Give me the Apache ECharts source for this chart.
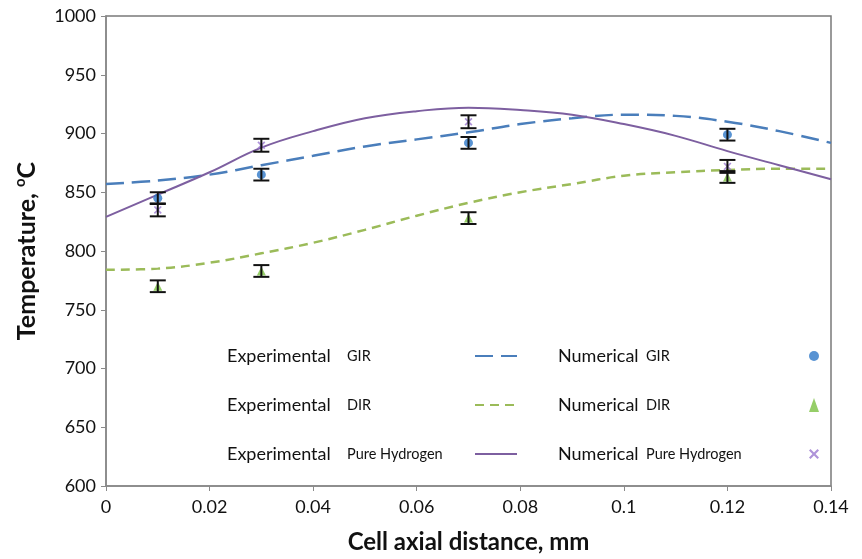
<!DOCTYPE html>
<html>
<head>
<meta charset="utf-8">
<script src="https://cdn.jsdelivr.net/npm/echarts@6/dist/echarts.min.js"></script>
<style>
  html, body { margin: 0; padding: 0; background: #fff; }
  #chart { width: 862px; height: 559px; }
</style>
</head>
<body>
<div id="chart"></div>
<script>
// Axial positions of the computed temperature profiles (mm)
const xModel = [0, 0.01, 0.02, 0.03, 0.04, 0.05, 0.06, 0.07, 0.08, 0.09, 0.10, 0.11, 0.12, 0.13, 0.14];
const girModel = [857, 860, 865, 873, 881, 889, 895, 901, 908, 913, 916, 915, 910, 902, 892];
const dirModel = [784, 785, 790, 798, 807, 818, 830, 841, 850, 857, 864, 867, 869, 870, 870];
const h2Model  = [829, 848, 867, 888, 902, 913, 919, 922, 920, 916, 908, 898, 885, 873, 861];

// Measured points with their uncertainty (± °C)
const xMeas = [0.01, 0.03, 0.07, 0.12];
const girMeas = [845, 865, 892, 899];
const dirMeas = [770, 783, 828, 863];
const h2Meas  = [835, 890, 910, 872];
const girErr = [5, 5, 5, 5];
const dirErr = [5, 5, 5, 5];
const h2Err  = [5.5, 5.5, 5.5, 5.5];

const xTicks = { min: 0, max: 0.14, interval: 0.02 };
const yTicks = { min: 600, max: 1000, interval: 50 };

const FONT = 'Lato, "Open Sans", sans-serif';
const C_BLUE_LINE = '#4a7ebb', C_GREEN_LINE = '#9bbb59', C_PURPLE_LINE = '#7d5fa0';
const C_BLUE_PT = '#2e78c8', C_GREEN_PT = '#7cc242', C_PURPLE_PT = '#9a78d0';

const pairs = (xs, ys) => xs.map((x, i) => [x, ys[i]]);
const errData = (xs, ys, es) => xs.map((x, i) => [x, ys[i] - es[i], ys[i] + es[i]]);

function errorBars(data) {
  return {
    type: 'custom',
    data: data,
    z: 5,
    silent: true,
    encode: { x: 0, y: [1, 2] },
    renderItem: function (params, api) {
      const lo = api.coord([api.value(0), api.value(1)]);
      const hi = api.coord([api.value(0), api.value(2)]);
      const w = 8;
      const style = { stroke: '#111', lineWidth: 2, fill: null };
      return {
        type: 'group',
        children: [
          { type: 'line', shape: { x1: lo[0], y1: lo[1], x2: hi[0], y2: hi[1] }, style: style },
          { type: 'line', shape: { x1: lo[0] - w, y1: lo[1], x2: lo[0] + w, y2: lo[1] }, style: style },
          { type: 'line', shape: { x1: hi[0] - w, y1: hi[1], x2: hi[0] + w, y2: hi[1] }, style: style }
        ]
      };
    }
  };
}

const crossSymbol = 'path://M0,1.5L1.5,0L5,3.5L8.5,0L10,1.5L6.5,5L10,8.5L8.5,10L5,6.5L1.5,10L0,8.5L3.5,5Z';

function legendFormatter(name) {
  const i = name.indexOf(' ');
  return '{a|' + name.slice(0, i) + '}{b|' + name.slice(i + 1) + '}';
}

function legendBlock(names, left, wA, wB, itemW, hideSymbol) {
  const block = {
    data: names,
    orient: 'vertical',
    left: left,
    top: 342,
    align: 'right',
    itemGap: 31,
    itemWidth: itemW,
    itemHeight: 14,
    selectedMode: false,
    formatter: legendFormatter,
    textStyle: {
      color: '#111',
      rich: {
        a: { fontFamily: FONT, fontSize: 18, width: wA, align: 'left', color: '#111', lineHeight: 14 },
        b: { fontFamily: FONT, fontSize: 14.5, width: wB, align: 'left', color: '#111', lineHeight: 14 }
      }
    }
  };
  if (hideSymbol) block.itemStyle = { opacity: 0 };
  return block;
}

const chart = echarts.init(document.getElementById('chart'), null, { renderer: 'canvas' });

chart.setOption({
  backgroundColor: '#fff',
  animation: false,
  grid: { left: 106, right: 31, top: 16, bottom: 66, show: true, borderColor: '#7a7a7a', borderWidth: 1.5 },
  legend: [
    legendBlock(['Experimental GIR', 'Experimental DIR', 'Experimental Pure Hydrogen'], 222, 120, 123, 42, true),
    legendBlock(['Numerical GIR', 'Numerical DIR', 'Numerical Pure Hydrogen'], 553, 88, 158, 10, false)
  ],
  xAxis: {
    type: 'value',
    min: xTicks.min, max: xTicks.max, interval: xTicks.interval,
    name: 'Cell axial distance, mm',
    nameLocation: 'middle',
    nameGap: 44,
    nameTextStyle: { fontFamily: FONT, fontSize: 24, fontWeight: 'bold', color: '#111' },
    axisLine: { lineStyle: { color: '#8a8a8a', width: 1.5 } },
    axisTick: { show: true, length: 5, lineStyle: { color: '#8a8a8a' } },
    axisLabel: {
      fontFamily: FONT, fontSize: 18, color: '#111', margin: 12,
      formatter: v => String(+v.toFixed(2))
    },
    splitLine: { show: false }
  },
  yAxis: {
    type: 'value',
    min: yTicks.min, max: yTicks.max, interval: yTicks.interval,
    name: 'Temperature, {sup|o}C',
    nameLocation: 'middle',
    nameGap: 66,
    nameRotate: 90,
    nameTextStyle: {
      fontFamily: FONT, fontSize: 25, fontWeight: 'bold', color: '#111',
      rich: { sup: { fontFamily: FONT, fontSize: 15, fontWeight: 'bold', color: '#111', verticalAlign: 'top', padding: [0, 0, 12, 0] } }
    },
    axisLine: { show: true, lineStyle: { color: '#8a8a8a', width: 1.5 } },
    axisTick: { show: true, length: 5, lineStyle: { color: '#8a8a8a' } },
    axisLabel: { fontFamily: FONT, fontSize: 18, color: '#111', margin: 10, formatter: v => String(v) },
    splitLine: { show: false }
  },
  series: [
    {
      name: 'Experimental GIR', type: 'line', smooth: 0.4, symbol: 'none',
      data: pairs(xModel, girModel),
      itemStyle: { color: C_BLUE_LINE },
      lineStyle: { color: C_BLUE_LINE, width: 2.5, type: [18, 8] }
    },
    {
      name: 'Experimental DIR', type: 'line', smooth: 0.4, symbol: 'none',
      data: pairs(xModel, dirModel),
      itemStyle: { color: C_GREEN_LINE },
      lineStyle: { color: C_GREEN_LINE, width: 2.5, type: [9, 6] }
    },
    {
      name: 'Experimental Pure Hydrogen', type: 'line', smooth: 0.4, symbol: 'none',
      data: pairs(xModel, h2Model),
      itemStyle: { color: C_PURPLE_LINE },
      lineStyle: { color: C_PURPLE_LINE, width: 2 }
    },
    {
      name: 'Numerical GIR', type: 'scatter', symbol: 'circle', symbolSize: 9,
      data: pairs(xMeas, girMeas), z: 3,
      itemStyle: { color: C_BLUE_PT }
    },
    {
      name: 'Numerical DIR', type: 'scatter', symbol: 'triangle', symbolSize: 9,
      data: pairs(xMeas, dirMeas), z: 3,
      itemStyle: { color: C_GREEN_PT }
    },
    {
      name: 'Numerical Pure Hydrogen', type: 'scatter', symbol: crossSymbol, symbolSize: 8,
      data: pairs(xMeas, h2Meas), z: 3,
      itemStyle: { color: C_PURPLE_PT }
    },
    errorBars(errData(xMeas, girMeas, girErr)),
    errorBars(errData(xMeas, dirMeas, dirErr)),
    errorBars(errData(xMeas, h2Meas, h2Err))
  ]
});
</script>
</body>
</html>
